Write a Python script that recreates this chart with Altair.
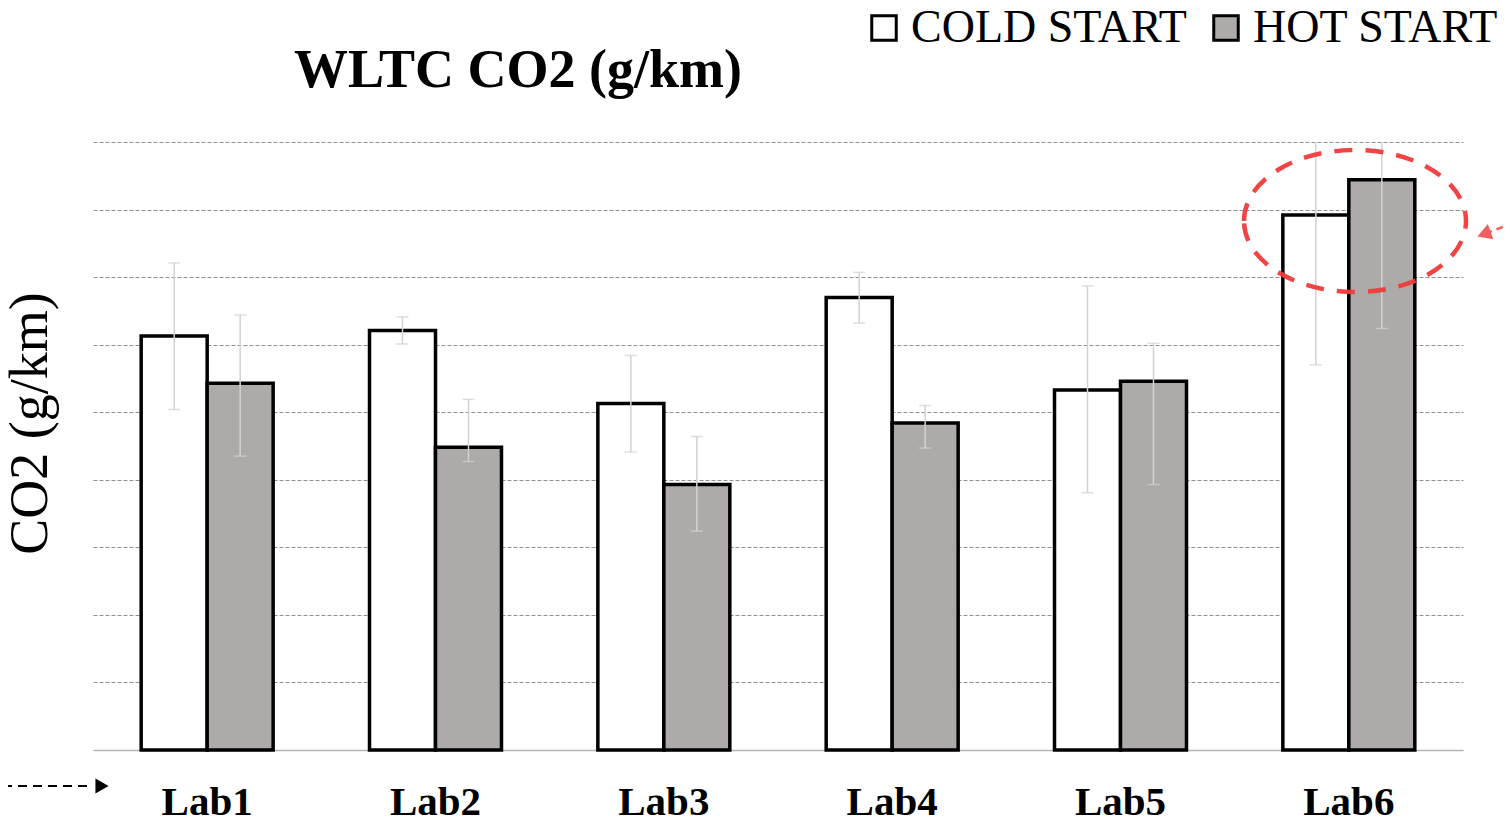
import altair as alt
import pandas as pd

labs = ["Lab1", "Lab2", "Lab3", "Lab4", "Lab5", "Lab6"]
series = ["COLD START", "HOT START"]
cold = [6.13, 6.21, 5.13, 6.70, 5.33, 7.92]
cold_lo = [5.04, 6.01, 4.41, 6.32, 3.81, 5.70]
cold_hi = [7.21, 6.41, 5.84, 7.07, 6.87, 10.14]
hot = [5.43, 4.48, 3.93, 4.84, 5.46, 8.44]
hot_lo = [4.35, 4.27, 3.24, 4.47, 3.93, 6.24]
hot_hi = [6.44, 5.19, 4.64, 5.10, 6.02, 10.64]
grid_values = [1, 2, 3, 4, 5, 6, 7, 8, 9]
chart_title = "WLTC CO2 (g/km)"

rows = []
for i, lab in enumerate(labs):
    rows.append({"lab": lab, "series": series[0], "v": cold[i], "lo": cold_lo[i], "hi": cold_hi[i]})
    rows.append({"lab": lab, "series": series[1], "v": hot[i], "lo": hot_lo[i], "hi": hot_hi[i]})
df = pd.DataFrame(rows)

FONT = "Liberation Serif"

xenc = alt.X("lab:N", sort=labs, title=None,
             scale=alt.Scale(paddingInner=0.422, paddingOuter=0.211),
             axis=alt.Axis(labelFont=FONT, labelFontSize=41, labelFontWeight="bold",
                           labelColor="black", labelPadding=32, ticks=False,
                           domainColor="#b4b4b4", domainWidth=1.5, labelAngle=0))
xoff = alt.XOffset("series:N", sort=series, scale=alt.Scale(paddingInner=0, paddingOuter=0))
yscale = alt.Scale(domain=[0, 9], nice=False, zero=True)

base = alt.Chart(df)

bars = base.mark_bar(stroke="black", strokeWidth=3.5, strokeJoin="miter").encode(
    x=xenc,
    xOffset=xoff,
    y=alt.Y("v:Q", scale=yscale, title="CO2 (g/km)",
            axis=alt.Axis(values=grid_values, labels=False, ticks=False, domain=False,
                          grid=True, gridColor="#8f8f8f", gridDash=[4, 2], gridWidth=1,
                          titleFont=FONT, titleFontSize=54, titleFontWeight="normal",
                          titleColor="black", titleAngle=-90, titleX=-47, titleY=281,
                          titleAlign="center", titleBaseline="alphabetic")),
    fill=alt.Fill("series:N", sort=series,
                  scale=alt.Scale(domain=series, range=["#ffffff", "#aeaaaa"]),
                  legend=alt.Legend(title=None, orient="none", legendX=768, legendY=-137,
                                    direction="horizontal", columns=2, padding=0,
                                    symbolType="square", symbolSize=600,
                                    symbolStrokeColor="black", symbolStrokeWidth=3,
                                    labelFont=FONT, labelFontSize=46, labelColor="black",
                                    labelOffset=4, columnPadding=16, labelLimit=400)),
)

err = base.mark_rule(color="#d2d2d2", strokeWidth=1.5, clip=True).encode(
    x=alt.X("lab:N", sort=labs),
    xOffset=xoff,
    y=alt.Y("lo:Q", scale=yscale),
    y2="hi:Q",
)
cap_lo = base.mark_tick(color="#d2d2d2", thickness=1.5, size=12, orient="horizontal", clip=True).encode(
    x=alt.X("lab:N", sort=labs), xOffset=xoff, y=alt.Y("lo:Q", scale=yscale))
cap_hi = base.mark_tick(color="#d2d2d2", thickness=1.5, size=12, orient="horizontal", clip=True).encode(
    x=alt.X("lab:N", sort=labs), xOffset=xoff, y=alt.Y("hi:Q", scale=yscale))

# annotations
one = pd.DataFrame({"t": [chart_title]})
title_text = alt.Chart(one).mark_text(font=FONT, fontSize=54, fontWeight="bold", color="black",
                                      align="center", baseline="alphabetic").encode(
    x=alt.value(425), y=alt.value(-55), text="t:N")
ellipse_path = ("M-1,0 C-1,-0.3535 -0.5523,-0.64 0,-0.64 C0.5523,-0.64 1,-0.3535 1,0 "
                "C1,0.3535 0.5523,0.64 0,0.64 C-0.5523,0.64 -1,0.3535 -1,0 Z")
ellipse = alt.Chart(one).mark_point(shape=ellipse_path, size=222 * 222, filled=False,
                                    stroke="#f03c3c", strokeWidth=4.5, strokeDash=[18, 13],
                                    opacity=0.95).encode(
    x=alt.value(1262), y=alt.value(79))
red_line = alt.Chart(one).mark_rule(color="#f06060", strokeWidth=2.5, strokeDash=[7, 5]).encode(
    x=alt.value(1410), x2=alt.value(1396), y=alt.value(85), y2=alt.value(90))
red_head = alt.Chart(one).mark_point(shape="triangle-right", filled=True, size=260,
                                     color="#f06060", opacity=1, angle=160).encode(
    x=alt.value(1391), y=alt.value(92))
blk_line = alt.Chart(one).mark_rule(color="black", strokeWidth=2, strokeDash=[9, 6]).encode(
    x=alt.value(-90), x2=alt.value(0), y=alt.value(644))
blk_head = alt.Chart(one).mark_point(shape="triangle-right", filled=True, size=230,
                                     color="black", opacity=1).encode(
    x=alt.value(9), y=alt.value(644))

chart = alt.layer(bars, err, cap_lo, cap_hi, title_text, ellipse, red_line, red_head,
                  blk_line, blk_head).properties(
    width=1370, height=608,
    background="white",
    autosize=alt.AutoSizeParams(type="none"),
    padding={"left": 85, "top": 134, "right": 40, "bottom": 78},
).configure_view(stroke=None)

chart.save("out.html", embed_options={"renderer": "svg", "actions": False})
